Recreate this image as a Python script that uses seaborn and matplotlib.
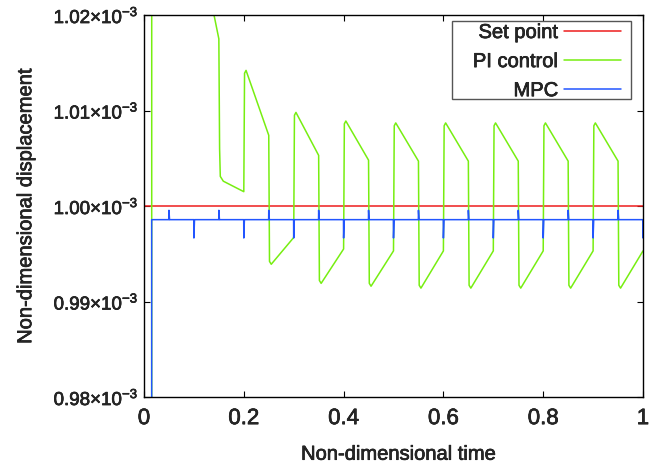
import numpy as np
import pandas as pd
import matplotlib
matplotlib.use("Agg")
import matplotlib.pyplot as plt
import matplotlib.patheffects as pe
from matplotlib.patches import Rectangle
import seaborn as sns

# ---------------- data (displacement in units of 1e-3) ----------------
setpoint_t = [0.0, 1.0]
setpoint_y = [1.000, 1.000]

# PI control: start-up transient breakpoints
pi_early_t = [0.015, 0.0155, 0.100, 0.1005, 0.1403, 0.1500, 0.1515, 0.1529, 0.1589, 0.2000]
pi_early_y = [0.000, 1.080, 1.040, 1.060, 1.0200, 1.0175, 1.0060, 1.0031, 1.0026, 1.0015]

# PI control: per-cycle readings (jump up at t0, drop at t0+0.05)
pi_cycle_t0 = [0.2, 0.3, 0.4, 0.5, 0.6, 0.7, 0.8, 0.9]
pi_peak = [1.0142, 1.0098, 1.0089, 1.0087, 1.0087, 1.0087, 1.0087, 1.0087]
pi_before_drop = [1.0074, 1.0053, 1.0048, 1.0047, 1.0047, 1.0047, 1.0047, 1.0047]
pi_min = [0.9939, 0.9919, 0.9916, 0.9914, 0.9914, 0.9914, 0.9914, 0.9914]
pi_cycle_end = [0.9967, 0.9955, 0.9953, 0.9953, 0.9953, 0.9953, 0.9953, 0.9953]

# MPC readings
mpc_start_t = 0.015
mpc_start_y = 0.0
mpc_base = 0.99857
mpc_up_t = [0.05, 0.15, 0.25, 0.35, 0.45, 0.55, 0.65, 0.75, 0.85, 0.95]
mpc_up_y = 0.99955
mpc_down_t = [0.10, 0.20, 0.30, 0.40, 0.50, 0.60, 0.70, 0.80, 0.90, 1.00]
mpc_down_y = 0.99665

series_names = ["Set point", "PI control", "MPC"]
series_colors = ["#ee1c1c", "#77ee11", "#2255ff"]

xticks = [0, 0.2, 0.4, 0.6, 0.8, 1.0]
xtick_labels = ["0", "0.2", "0.4", "0.6", "0.8", "1"]
yticks = [0.98, 0.99, 1.00, 1.01, 1.02]
ytick_labels = ["0.98×10$^{-3}$", "0.99×10$^{-3}$", "1.00×10$^{-3}$",
                "1.01×10$^{-3}$", "1.02×10$^{-3}$"]

# ---------------- build polylines ----------------
pi_t = list(pi_early_t)
pi_y = list(pi_early_y)
for t0, pk, bd, mn, en in zip(pi_cycle_t0, pi_peak, pi_before_drop, pi_min, pi_cycle_end):
    pi_t += [t0 + 0.0015, t0 + 0.0045, t0 + 0.0500, t0 + 0.0515, t0 + 0.0550, t0 + 0.1000]
    pi_y += [pk - 0.0003, pk, bd, mn + 0.0003, mn, en]

mpc_events = sorted([(t, mpc_up_y) for t in mpc_up_t] + [(t, mpc_down_y) for t in mpc_down_t])
mpc_t = [mpc_start_t, mpc_start_t + 0.0004]
mpc_y = [mpc_start_y, mpc_base]
for t, v in mpc_events:
    mpc_t += [t - 0.0002, t, t + 0.0012]
    mpc_y += [mpc_base, v, mpc_base]

df = pd.concat([
    pd.DataFrame({"t": setpoint_t, "y": setpoint_y, "series": series_names[0]}),
    pd.DataFrame({"t": pi_t, "y": pi_y, "series": series_names[1]}),
    pd.DataFrame({"t": mpc_t, "y": mpc_y, "series": series_names[2]}),
], ignore_index=True)

# ---------------- plot ----------------
sns.set_theme(style="ticks")
plt.rcParams["font.family"] = ["Liberation Sans", "DejaVu Sans"]
plt.rcParams["mathtext.fontset"] = "custom"
plt.rcParams["mathtext.rm"] = "Liberation Sans"
plt.rcParams["mathtext.it"] = "Liberation Sans"
plt.rcParams["mathtext.default"] = "rm"

fig = plt.figure(figsize=(6.69, 4.64), dpi=100)
ax = fig.add_axes([144 / 669, 1 - 398 / 464, 499 / 669, 382 / 464])

for name, col in zip(series_names, series_colors):
    sub = df[df["series"] == name]
    sns.lineplot(data=sub, x="t", y="y", ax=ax, color=col, linewidth=1.1,
                 estimator=None, sort=False, label=name)

ax.set_xlim(0, 1)
ax.set_ylim(0.98, 1.02)
ax.set_xticks(xticks)
ax.set_xticklabels(xtick_labels, fontsize=16)
ax.set_yticks(yticks)
ax.set_yticklabels(ytick_labels, fontsize=13.5)
ax.tick_params(direction="in", top=True, right=True, length=4.3, width=0.8,
               color="black")
ax.tick_params(axis="x", pad=8)
ax.tick_params(axis="y", pad=4)
for s in ax.spines.values():
    s.set_color("black")
    s.set_linewidth(1.0)

ax.set_xlabel("Non-dimensional time", fontsize=14.5)
ax.set_ylabel("Non-dimensional displacement", fontsize=14.5)
ax.xaxis.set_label_coords(0.51, -0.125)
ax.yaxis.set_label_coords(-0.218, 0.5)

# legend box drawn as a rectangle, legend content without its own frame
ax.add_patch(Rectangle((0.617, 0.780), 0.359, 0.204, transform=ax.transAxes,
                       facecolor="white", edgecolor="#555555", linewidth=1.0,
                       zorder=5))
leg = ax.legend(loc="upper right", bbox_to_anchor=(0.955, 0.979),
                borderaxespad=0, markerfirst=False, fontsize=14.5,
                handlelength=2.8, handletextpad=0.3, labelspacing=0.5,
                borderpad=0, frameon=False)
leg.set_zorder(6)
for t in leg.get_texts():
    t.set_ha("right")

stroke = [pe.withStroke(linewidth=0.45, foreground="black")]
for t in (ax.get_xticklabels() + ax.get_yticklabels() + leg.get_texts()
          + [ax.xaxis.label, ax.yaxis.label]):
    t.set_path_effects(stroke)

fig.savefig("out.png", dpi=100)
